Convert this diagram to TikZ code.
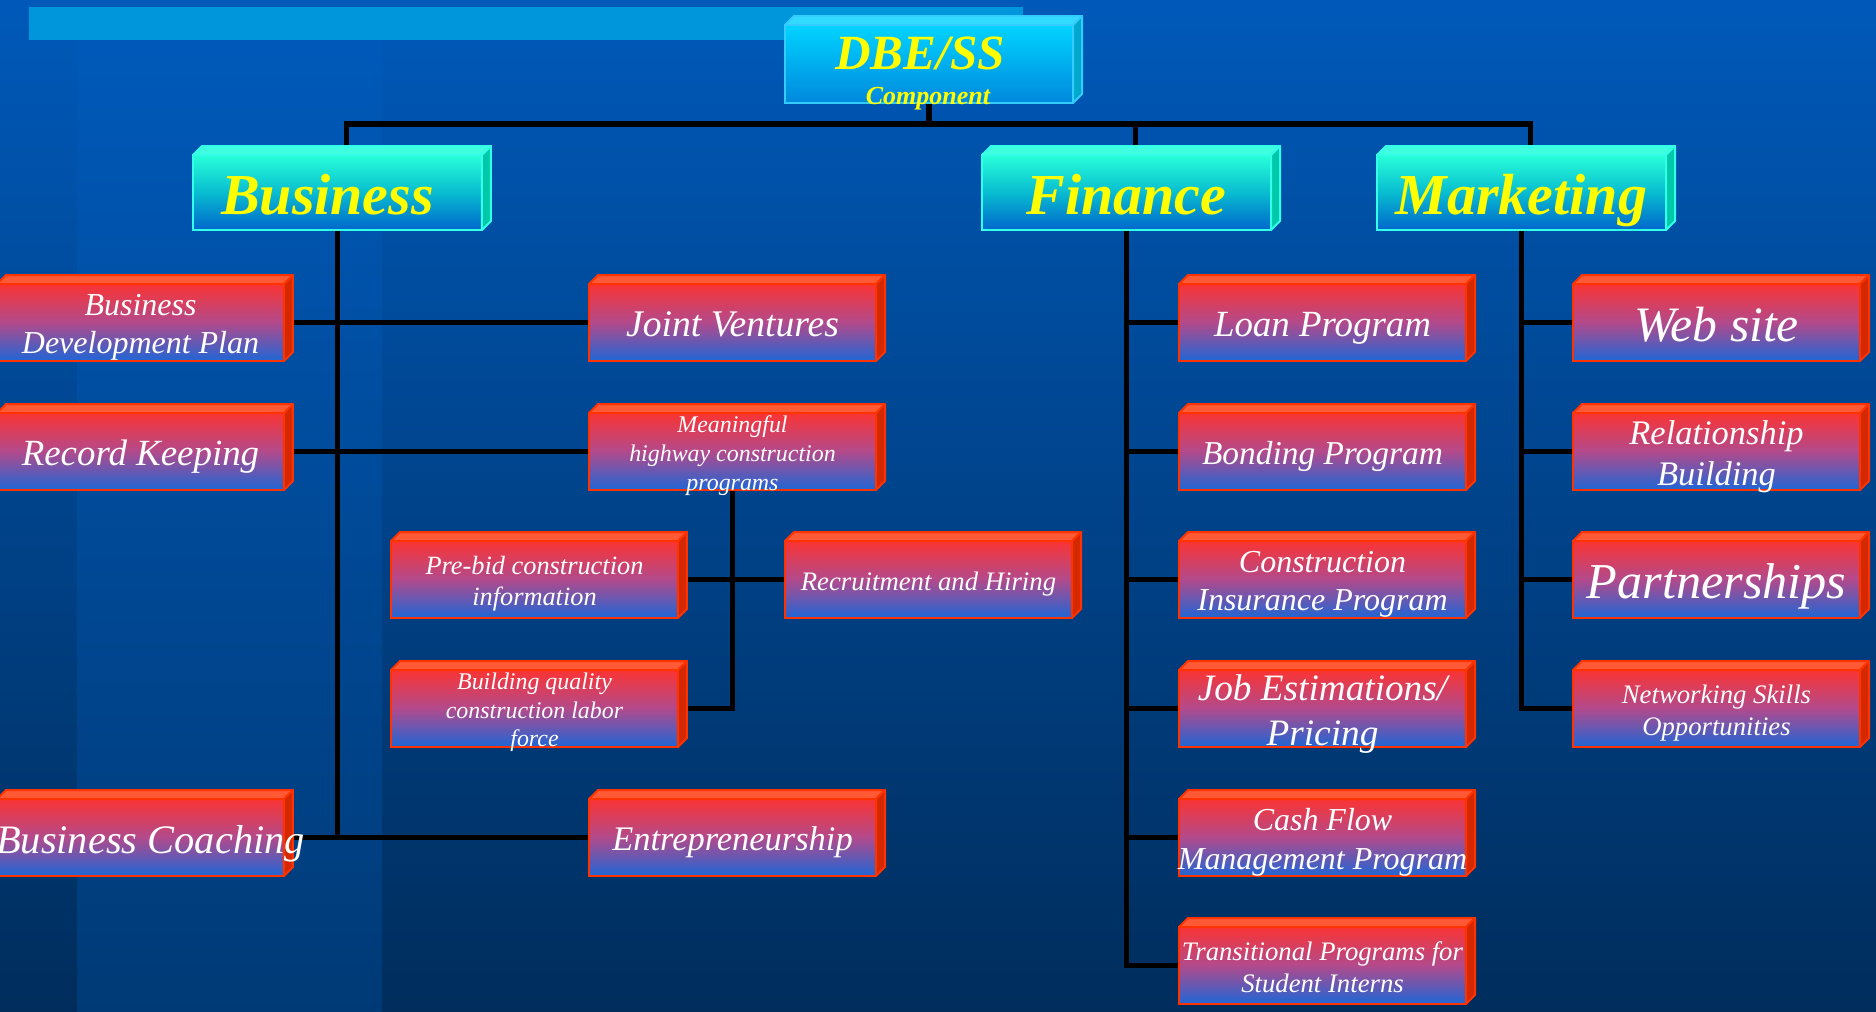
\documentclass[tikz,border=0pt]{standalone}
\usepackage{fontspec}
\setmainfont{Liberation Serif}
\usetikzlibrary{calc}
\pgfdeclarelayer{bg}
\pgfsetlayers{bg,main}

% page and background
\definecolor{bgtop}{HTML}{0059B9}
\definecolor{bgbot}{HTML}{002D5C}
\definecolor{bandbot}{HTML}{003A76}
\definecolor{ribbon}{HTML}{0096DC}
% red item boxes
\definecolor{redA}{HTML}{FA3434}
\definecolor{redB}{HTML}{B24A8C}
\definecolor{redC}{HTML}{1E66D6}
\definecolor{redlid}{HTML}{FF5A35}
\definecolor{redflank}{HTML}{D42800}
\definecolor{redline}{HTML}{FF3300}
% aqua category boxes
\definecolor{aquaA}{HTML}{28FFD8}
\definecolor{aquaB}{HTML}{08BCD0}
\definecolor{aquaC}{HTML}{0066CC}
\definecolor{aqualid}{HTML}{40FFE0}
\definecolor{aquaflank}{HTML}{00C8A8}
\definecolor{aqualine}{HTML}{33FFE8}
% sky title box
\definecolor{skyA}{HTML}{00D4FF}
\definecolor{skyC}{HTML}{0088DD}
\definecolor{skylid}{HTML}{33DAFF}
\definecolor{skyflank}{HTML}{00A8CC}
\definecolor{skyline}{HTML}{33CCFF}
\definecolor{gold}{HTML}{FFFF00}

\newcommand\fz[1]{\fontsize{#1pt}{\fpeval{1.2*#1}pt}\selectfont\itshape}
\newcommand\fzb[1]{\fontsize{#1pt}{\fpeval{1.2*#1}pt}\selectfont\bfseries\itshape}

% lid and flank of a raised box
\newcommand\raised[2]{%
  \filldraw[#2lid face] (#1.north west) -- ++(0.9mm,0.9mm)
    -- ($(#1.north east)+(0.9mm,0.9mm)$) -- (#1.north east) -- cycle;
  \filldraw[#2flank face] (#1.north east) -- ++(0.9mm,0.9mm)
    -- ($(#1.south east)+(0.9mm,0.9mm)$) -- (#1.south east) -- cycle;
}
% a raised box with its caption:
% [caption offset] kind, name, top-left corner, font, caption
\newcommand\chip[6][0,0]{%
  \node[#2chip] (#3) at (#4) {};
  \raised{#3}{#2}
  \node[chiptext, font={#5}] (#3-text) at ($(#3.center)+(#1)+(0,1.5)$) {#6};
}

\tikzset{
  chip/.style={minimum width=28.7mm, minimum height=7.7mm, inner sep=0pt,
    outer sep=0pt, anchor=north west, line width=0.2mm},
  redchip/.style={chip, draw=redline, top color=redA, bottom color=redC,
    middle color=redB},
  aquachip/.style={chip, minimum width=28.9mm, minimum height=7.5mm,
    draw=aqualine, top color=aquaA, bottom color=aquaC, middle color=aquaB},
  skychip/.style={chip, minimum width=28.8mm, minimum height=7.8mm,
    draw=skyline, top color=skyA, bottom color=skyC},
  chiptext/.style={align=center, inner sep=0pt, text=white, text depth=0pt},
  headtext/.style={inner sep=0pt, text=gold, text depth=0pt, font=\fzb{16.5}},
  redlid face/.style={draw=redline, fill=redlid, line width=0.2mm, line join=round},
  redflank face/.style={draw=redline, fill=redflank, line width=0.2mm, line join=round},
  aqualid face/.style={draw=aqualine, fill=aqualid, line width=0.2mm, line join=round},
  aquaflank face/.style={draw=aqualine, fill=aquaflank, line width=0.2mm, line join=round},
  skylid face/.style={draw=skyline, fill=skylid, line width=0.2mm, line join=round},
  skyflank face/.style={draw=skyline, fill=skyflank, line width=0.2mm, line join=round},
  conn/.style={line width=0.55mm, black, line join=miter},
}

\begin{document}
\begin{tikzpicture}[x=0.1mm, y=-0.1mm]
\useasboundingbox (0,0) rectangle (1876,1012);
\clip (0,0) rectangle (1876,1012);

\begin{pgfonlayer}{bg}
  \fill[top color=bgtop, bottom color=bgbot] (0,0) rectangle (1876,1012);
  \fill[top color=bgtop, bottom color=bandbot] (77,40) rectangle (382,1012);
  \fill[ribbon] (29,7) rectangle (1023,40);
\end{pgfonlayer}

% title
\node[skychip] (dbe) at (785,25) {};
\raised{dbe}{sky}
\node[anchor=base, text=gold, font=\fzb{14}, inner sep=0pt] (dbetitle) at (920,69) {DBE/SS};
\node[anchor=base, text=gold, font=\fzb{7.4}, inner sep=0pt] (dbesub) at (928,104) {Component};

% categories
\node[aquachip] (biz) at (193,155) {};
\node[aquachip] (fin) at (982,155) {};
\node[aquachip] (mkt) at (1377,155) {};
\raised{biz}{aqua}
\raised{fin}{aqua}
\raised{mkt}{aqua}
\node[headtext] (biz-text) at ($(biz.center)+(-10,2)$) {Business};
\node[headtext] (fin-text) at ($(fin.center)+(0,2)$) {Finance};
\node[headtext] (mkt-text) at ($(mkt.center)+(0,2)$) {Marketing};

% business items
\chip{red}{bdp}{-3,284}{\fz{9.1}}{Business\\Development Plan}
\chip{red}{rk}{-3,413}{\fz{10.5}}{Record Keeping}
\chip{red}{jv}{589,284}{\fz{10.7}}{Joint Ventures}
\chip{red}{mhc}{589,413}{\fz{6.8}}{Meaningful\\highway construction\\programs}
\chip{red}{pbc}{391,541}{\fz{7.5}}{Pre-bid construction\\information}
\chip{red}{bql}{391,670}{\fz{6.8}}{Building quality\\construction labor\\force}
\chip{red}{rah}{785,541}{\fz{7.6}}{Recruitment and Hiring}
\chip{red}{ent}{589,799}{\fz{9.8}}{Entrepreneurship}
\chip[10,0]{red}{bc}{-3,799}{\fz{11.5}}{Business Coaching}

% finance items
\chip{red}{loan}{1179,284}{\fz{10.5}}{Loan Program}
\chip{red}{bond}{1179,413}{\fz{9.5}}{Bonding Program}
\chip{red}{cip}{1179,541}{\fz{9.1}}{Construction\\Insurance Program}
\chip{red}{jep}{1179,670}{\fz{10.6}}{Job Estimations/\\Pricing}
\chip{red}{cfm}{1179,799}{\fz{9.1}}{Cash Flow\\Management Program}
\chip{red}{tpi}{1179,927}{\fz{7.6}}{Transitional Programs for\\Student Interns}

% marketing items
\chip{red}{web}{1573,284}{\fz{14.1}}{Web site}
\chip{red}{rel}{1573,413}{\fz{9.8}}{Relationship\\Building}
\chip{red}{part}{1573,541}{\fz{14.3}}{Partnerships}
\chip{red}{net}{1573,670}{\fz{7.6}}{Networking Skills\\Opportunities}

% connectors
\coordinate (bar) at (0,124);
\coordinate (bizT) at ($(biz.north)+(0.9mm,0.9mm)$);
\coordinate (finT) at ($(fin.north)+(0.9mm,0.9mm)$);
\coordinate (mktT) at ($(mkt.north)+(0.9mm,0.9mm)$);
\begin{pgfonlayer}{bg}
  \draw[conn] (bizT) -- (bizT |- bar) -- (mktT |- bar) -- (mktT);
  \draw[conn] (finT) -- (finT |- bar);
  \draw[conn] (dbe.south) -- (dbe.south |- bar);

  \draw[conn] (biz.south) -- (biz.south |- ent.west);
  \draw[conn] (bdp.east) -- (jv.west);
  \draw[conn] (rk.east) -- (mhc.west);
  \draw[conn] (bc.east) -- (ent.west);
  \draw[conn] (mhc.south) -- (mhc.south |- bql.east) -- (bql.east);
  \draw[conn] (pbc.east) -- (rah.west);

  \draw[conn] (fin.south) -- (fin.south |- tpi.west) -- (tpi.west);
  \foreach \n in {loan,bond,cip,jep,cfm}
    {\draw[conn] (fin.south |- \n.west) -- (\n.west);}

  \draw[conn] (mkt.south) -- (mkt.south |- net.west) -- (net.west);
  \foreach \n in {web,rel,part}
    {\draw[conn] (mkt.south |- \n.west) -- (\n.west);}
\end{pgfonlayer}
\end{tikzpicture}
\end{document}
